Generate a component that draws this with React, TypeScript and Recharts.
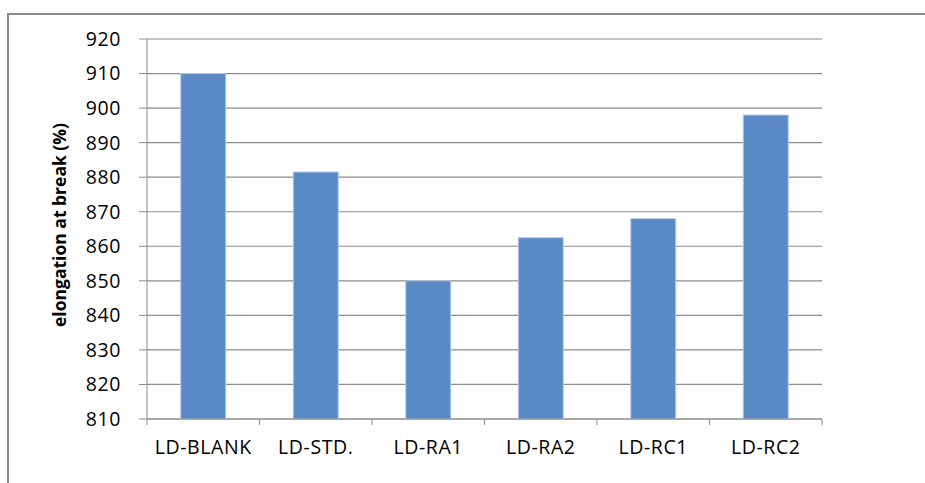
import React from "react"
import { BarChart, Bar, XAxis, YAxis, CartesianGrid, Label } from "recharts"

const categories = ["LD-BLANK", "LD-STD.", "LD-RA1", "LD-RA2", "LD-RC1", "LD-RC2"]
const elongation = [910, 881.5, 850, 862.5, 868, 898]
const yTicks = [810, 820, 830, 840, 850, 860, 870, 880, 890, 900, 910, 920]

const data = categories.map((name, i) => ({ name, value: elongation[i] }))

const W = 925
const H = 483
const X_AXIS_H = 30
const M = { top: 39, right: 103, bottom: 64 - X_AXIS_H, left: 77 }
const Y_AXIS_W = 70
const FONT = "'Open Sans', 'Liberation Sans', sans-serif"
const GRID = "#8c8c8c"

function XTick(props: any) {
  const { x, y, payload, index } = props
  const step = (W - M.left - Y_AXIS_W - M.right) / categories.length
  const axisY = y - 21
  return (
    <g>
      <line x1={x - step / 2} x2={x - step / 2} y1={axisY} y2={axisY + 6} stroke={GRID} />
      {index === categories.length - 1 && (
        <line x1={x + step / 2} x2={x + step / 2} y1={axisY} y2={axisY + 6} stroke={GRID} />
      )}
      <text x={x} y={y} dy="0.71em" textAnchor="middle" fill="#000" fontSize={19.5} letterSpacing={0.6} fontFamily={FONT}>
        {payload.value}
      </text>
    </g>
  )
}

export default function App() {
  return (
    <div style={{ position: "absolute", left: 0, top: 0, width: W, height: H, background: "#fff", overflow: "hidden" }}>
      <div style={{ position: "absolute", left: 7, top: 13, width: W + 20, height: H + 20, border: "2px solid #8a8a8a" }} />
      <div style={{ position: "absolute", left: 0, top: 0 }}>
        <BarChart width={W} height={H} data={data} margin={M} barCategoryGap="30%">
          <CartesianGrid vertical={false} stroke={GRID} strokeWidth={1.2} />
          <XAxis
            dataKey="name"
            height={X_AXIS_H}
            stroke={GRID}
            tickLine={false}
            tickSize={6}
            tickMargin={15}
            tick={<XTick />}
            interval={0}
          />
          <YAxis
            domain={[810, 920]}
            ticks={yTicks}
            width={Y_AXIS_W}
            stroke={GRID}
            tickSize={8}
            tickMargin={18}
            tick={{ fill: "#000", fontSize: 19.5, fontFamily: FONT, letterSpacing: 0.6 }}
            interval={0}
          >
            <Label
              value="elongation at break (%)"
              angle={-90}
              position="insideLeft"
              content={(p: any) => {
                const vb = p.viewBox || {}
                const cy = vb.y + vb.height / 2 - 4
                return (
                  <text x={59} y={cy} transform={`rotate(-90, 59, ${cy})`} textAnchor="middle" dominantBaseline="central"
                    fontSize={17.5} fontWeight="bold" fontFamily={FONT} fill="#000">
                    elongation at break (%)
                  </text>
                )
              }}
            />
          </YAxis>
          <Bar dataKey="value" fill="#5b8bc6" stroke="#b4cbe6" strokeWidth={1} isAnimationActive={false} />
        </BarChart>
      </div>
    </div>
  )
}
